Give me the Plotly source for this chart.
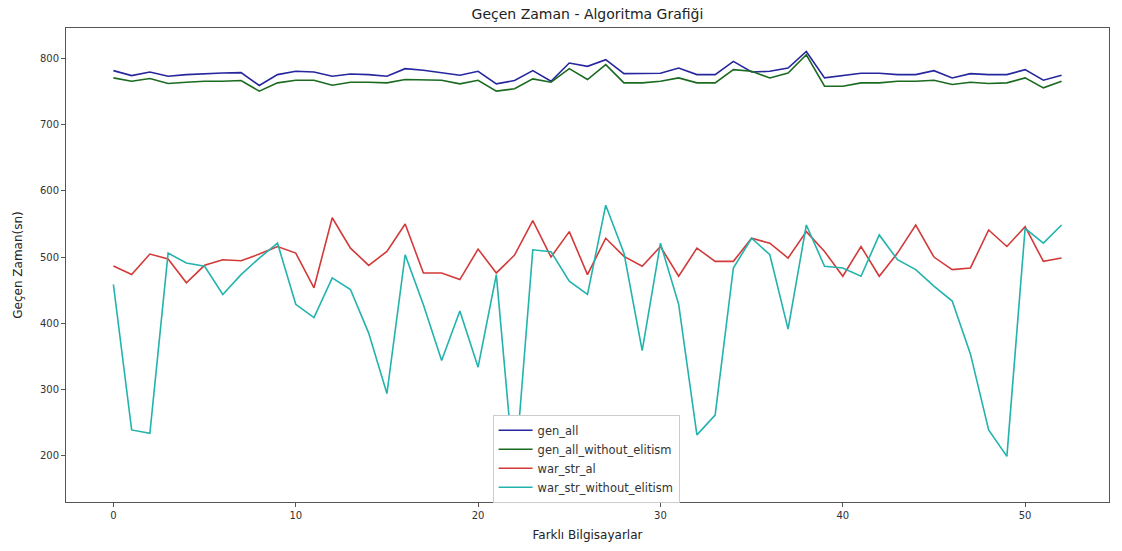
import plotly.graph_objects as go

# Run times (seconds) of each algorithm on each computer
computers = list(range(53))

gen_all = [
    782, 774.5, 780, 773.5, 776, 777.5, 778.5, 779, 759.5, 776,
    781, 780, 773.5, 777, 776, 773.5, 785, 782.5, 779, 775,
    781, 762, 767, 782, 766, 793.5, 788.5, 798.5, 777.5, 777.5,
    778, 786, 776, 776, 796, 780, 781, 786, 811, 771,
    774.5, 778, 778, 776, 776, 782, 771, 777.5, 776, 776,
    783.5, 767.5, 775,
]

gen_all_without_elitism = [
    771, 766, 770, 762.5, 764.5, 766, 766, 767, 751, 763.5,
    767.5, 767.5, 760, 764.5, 764.5, 763.5, 768.5, 767.5, 767.5, 762,
    767.5, 751, 754.5, 769.5, 764.5, 785, 768.5, 791, 763.5, 763.5,
    766, 771, 763.5, 763.5, 783.5, 781, 771, 778.5, 806, 758.5,
    758.5, 763.5, 763.5, 766, 766, 767.5, 761, 764.5, 762.5, 763.5,
    771, 756, 766,
]

war_str_al = [
    486.5, 473.5, 504.5, 497, 461, 487.5, 496, 494.5, 504.5, 516,
    506, 453.5, 559.5, 513.5, 487.5, 508.5, 550, 476, 476, 466,
    512, 476, 503, 555, 500, 538.5, 473.5, 528.5, 501, 486,
    516, 471, 513.5, 493.5, 493.5, 528.5, 521, 498.5, 538.5, 508.5,
    471, 516, 471, 506, 548.5, 500, 481, 483.5, 541, 516,
    546, 493.5, 498.5,
]

war_str_without_elitism = [
    458.5, 238.5, 233.5, 506, 491, 486, 443.5, 473.5, 498.5, 521,
    428.5, 408.5, 468.5, 451, 385, 293.5, 503.5, 428, 343.5, 418.5,
    333.5, 473.5, 165, 511, 508, 463.5, 443.5, 578.5, 506, 358.5,
    521, 428.5, 231, 261, 483.5, 528.5, 503.5, 391, 548.5, 486,
    483.5, 471, 533.5, 496, 481, 456, 433.5, 353.5, 238.5, 198.5,
    543.5, 521, 548.5,
]

series = [
    ("gen_all", gen_all, "#26269e"),
    ("gen_all_without_elitism", gen_all_without_elitism, "#1a6a20"),
    ("war_str_al", war_str_al, "#d23a3a"),
    ("war_str_without_elitism", war_str_without_elitism, "#22b3ad"),
]

fig = go.Figure()
for name, values, color in series:
    fig.add_trace(go.Scatter(
        x=computers, y=values, mode="lines", name=name,
        line=dict(color=color, width=1.6),
    ))

axis_style = dict(
    showgrid=False, zeroline=False, showline=True, mirror=True,
    linecolor="#555555", linewidth=1,
    ticks="outside", ticklen=4, tickcolor="#555555",
    tickfont=dict(family="DejaVu Sans", size=10, color="#333333"),
)

fig.update_layout(
    width=1122, height=551,
    margin=dict(l=66, r=12, t=28, b=45),
    paper_bgcolor="white", plot_bgcolor="white",
    font=dict(family="DejaVu Sans", color="#222222"),
    title=dict(
        text="Geçen Zaman - Algoritma Grafiği",
        x=0.5, xref="paper", xanchor="center",
        y=0.975, yanchor="middle",
        font=dict(size=14, color="#222222"),
    ),
    xaxis=dict(
        range=[-2.6, 54.6], tickmode="array", tickvals=[0, 10, 20, 30, 40, 50],
        title=dict(text="Farklı Bilgisayarlar", font=dict(size=12), standoff=10),
        **axis_style,
    ),
    yaxis=dict(
        range=[129.5, 846.5], tickmode="array",
        tickvals=[200, 300, 400, 500, 600, 700, 800],
        title=dict(text="Geçen Zaman(sn)", font=dict(size=12), standoff=14),
        **axis_style,
    ),
    legend=dict(
        x=0.409, y=0.184, xanchor="left", yanchor="top",
        bgcolor="white", bordercolor="#cccccc", borderwidth=1,
        font=dict(family="DejaVu Sans", size=11.5, color="#333333"),
        tracegroupgap=0, itemwidth=34,
    ),
    showlegend=True,
)

fig.write_html("out.html")
